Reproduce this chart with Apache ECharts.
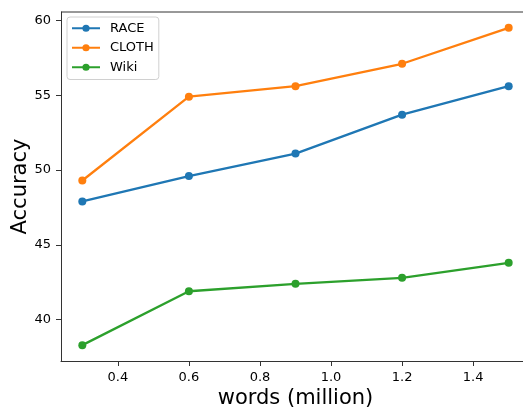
<!DOCTYPE html>
<html><head><meta charset="utf-8">
<script src="https://cdn.jsdelivr.net/npm/echarts@6/dist/echarts.min.js"></script>
<style>html,body{margin:0;padding:0;background:#fff}#c{width:523px;height:407px}</style>
</head><body><div id="c"></div>
<script>
const words = [0.3, 0.6, 0.9, 1.2, 1.5];
const race = [47.9, 49.6, 51.1, 53.7, 55.6];
const cloth = [49.3, 54.9, 55.6, 57.1, 59.5];
const wiki = [38.3, 41.9, 42.4, 42.8, 43.8];
const xTicks = [0.4, 0.6, 0.8, 1.0, 1.2, 1.4];
const yTicks = [40, 45, 50, 55, 60];

const font = 'DejaVu Sans';
function mk(name, vals, color) {
  return {
    name, type: 'line', data: words.map((w, i) => [w, vals[i]]),
    symbol: 'circle', symbolSize: 8, showSymbol: true,
    lineStyle: { color, width: 2.3 }, itemStyle: { color },
    emphasis: { disabled: true }, animation: false
  };
}
const chart = echarts.init(document.getElementById('c'));
chart.setOption({
  animation: false,
  grid: { left: 61, top: 12, right: -7, bottom: 46, outerBoundsMode: 'none', containLabel: false },
  legend: {
    left: 67, top: 17, orient: 'vertical', itemGap: 5,
    itemWidth: 28, itemHeight: 9,
    backgroundColor: '#fff', borderColor: '#d0d0d0', borderWidth: 1, borderRadius: 3,
    padding: [4, 5, 5, 4],
    textStyle: { fontFamily: font, fontSize: 13, color: '#000', lineHeight: 14.5, padding: [0, 0, 0, 5] },
    data: ['RACE', 'CLOTH', 'Wiki']
  },
  xAxis: {
    type: 'value', min: 0.24, max: 1.56,
    name: 'words (million)', nameLocation: 'middle', nameGap: 27, nameMoveOverlap: false,
    nameTextStyle: { fontFamily: font, fontSize: 21, color: '#000' },
    axisLine: { show: true, onZero: false, lineStyle: { color: '#333', width: 1 } },
    axisTick: { show: true, customValues: xTicks, length: 5, lineStyle: { color: '#333' } },
    axisLabel: { customValues: xTicks, formatter: v => v.toFixed(1), fontFamily: font, fontSize: 13, color: '#000', margin: 10 },
    splitLine: { show: false }
  },
  yAxis: {
    type: 'value', min: 37.24, max: 60.56,
    name: 'Accuracy', nameLocation: 'middle', nameGap: 30, nameMoveOverlap: false,
    nameTextStyle: { fontFamily: font, fontSize: 21, color: '#000' },
    axisLine: { show: true, onZero: false, lineStyle: { color: '#333', width: 1 } },
    axisTick: { show: true, customValues: yTicks, length: 5, lineStyle: { color: '#333' } },
    axisLabel: { customValues: yTicks, fontFamily: font, fontSize: 13, color: '#000', margin: 10 },
    splitLine: { show: false }
  },
  series: [mk('RACE', race, '#1f77b4'), mk('CLOTH', cloth, '#ff7f0e'), mk('Wiki', wiki, '#2ca02c')]
});
chart.setOption({
  graphic: [{
    type: 'line', z: 10,
    shape: { x1: 61, y1: 12, x2: 523, y2: 12 },
    style: { stroke: '#333', lineWidth: 1 }
  }]
});
</script></body></html>
